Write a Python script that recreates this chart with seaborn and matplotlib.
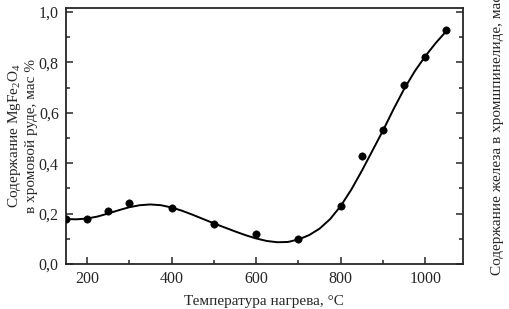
import numpy as np
import pandas as pd
import matplotlib
matplotlib.use("Agg")
import matplotlib.pyplot as plt
import seaborn as sns
from matplotlib.ticker import MultipleLocator, FuncFormatter

# Measured points
temp = [150, 200, 250, 300, 400, 500, 600, 700, 800, 850, 900, 950, 1000, 1050]
mgfe2o4 = [0.18, 0.18, 0.21, 0.24, 0.22, 0.16, 0.12, 0.10, 0.23, 0.43, 0.53, 0.71, 0.82, 0.93]

# Smooth curve
curve_temp = [150, 175, 200, 225, 250, 275, 300, 325, 350, 375, 400, 425, 450, 475,
              500, 525, 550, 575, 600, 625, 650, 675, 700, 725, 750, 775, 800, 825,
              850, 875, 900, 925, 950, 975, 1000, 1025, 1050]
curve_val = [0.178, 0.177, 0.180, 0.188, 0.200, 0.213, 0.225, 0.233, 0.236, 0.233,
             0.224, 0.211, 0.195, 0.178, 0.161, 0.145, 0.129, 0.114, 0.101, 0.091,
             0.086, 0.087, 0.097, 0.114, 0.140, 0.178, 0.230, 0.295, 0.370, 0.450,
             0.530, 0.615, 0.695, 0.765, 0.825, 0.878, 0.925]

pts = pd.DataFrame({"T": temp, "C": mgfe2o4})
crv = pd.DataFrame({"T": curve_temp, "C": curve_val})

sns.set_style("ticks")
plt.rcParams["font.family"] = ["Liberation Serif", "DejaVu Serif"]
plt.rcParams["mathtext.fontset"] = "custom"
plt.rcParams["mathtext.rm"] = "Liberation Serif"
plt.rcParams["mathtext.it"] = "Liberation Serif"

fig = plt.figure(figsize=(5.1, 3.09), dpi=100)
ax = fig.add_axes([0.129, 0.146, 0.778, 0.828])

sns.lineplot(data=crv, x="T", y="C", color="black", linewidth=1.4, ax=ax)
sns.scatterplot(data=pts, x="T", y="C", color="black", s=28, edgecolor="black", zorder=3, ax=ax)

ax.set_xlim(150, 1088)
ax.set_ylim(0, 1.016)
ax.xaxis.set_major_locator(MultipleLocator(200))
ax.xaxis.set_minor_locator(MultipleLocator(100))
ax.yaxis.set_major_locator(MultipleLocator(0.2))
ax.yaxis.set_minor_locator(MultipleLocator(0.1))
ax.yaxis.set_major_formatter(FuncFormatter(lambda v, p: f"{v:.1f}".replace(".", ",")))
ax.tick_params(which="both", direction="in", labelsize=11.5, right=True, top=False, width=1.1)
ax.tick_params(which="major", length=5, pad=5)
ax.tick_params(which="minor", length=3)
for s in ax.spines.values():
    s.set_linewidth(1.3)
    s.set_visible(True)

ax.set_xlabel("Температура нагрева, °С", fontsize=11, labelpad=6)
ax.set_ylabel("")
fig.text(0.043, 0.56, "Содержание MgFe$_2$O$_4$\nв хромовой руде, мас %", rotation=90,
         ha="center", va="center", multialignment="center", fontsize=11)

# second axis label, cut off at the figure edge like in the source
fig.text(0.975, 0.11, "Содержание железа в хромшпинелиде, мас. %", rotation=90,
         ha="center", va="bottom", fontsize=11)

plt.savefig("out.png", dpi=100)
